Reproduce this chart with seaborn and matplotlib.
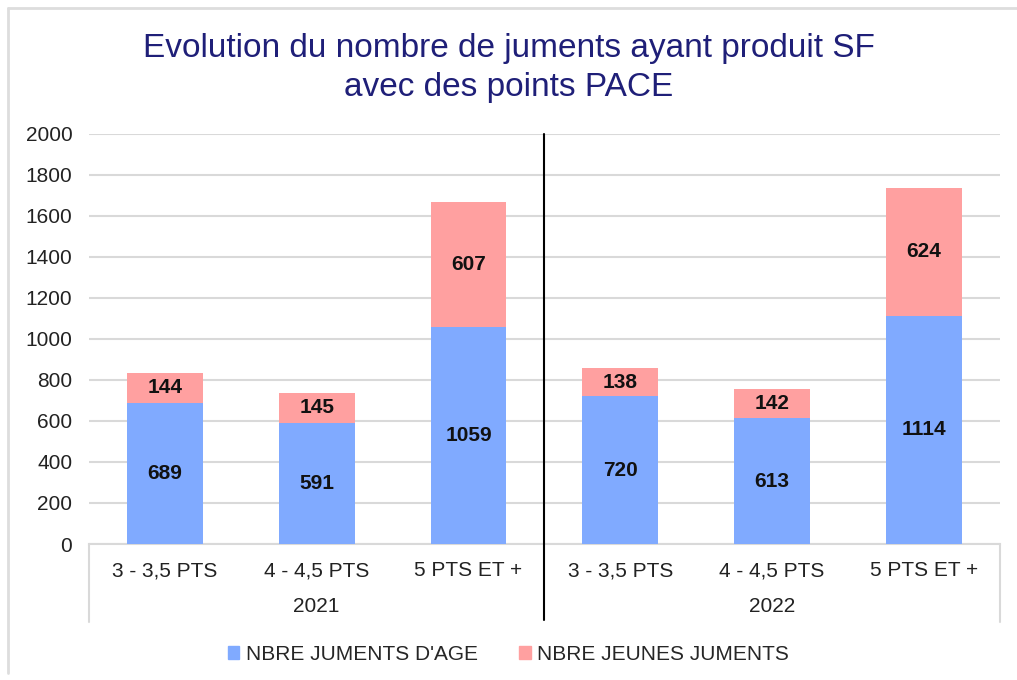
import numpy as np
import pandas as pd
import matplotlib.pyplot as plt
import matplotlib.transforms as mtransforms
from matplotlib.patches import Patch
import seaborn as sns

# Données
annees = ['2021', '2022']
categories = ['3 - 3,5 PTS', '4 - 4,5 PTS', '5 PTS ET +']
juments_age = [689, 591, 1059, 720, 613, 1114]
jeunes_juments = [144, 145, 607, 138, 142, 624]
y_ticks = [0, 200, 400, 600, 800, 1000, 1200, 1400, 1600, 1800, 2000]

BLEU = '#80AAFF'
ROSE = '#FFA0A0'
TITRE = '#1F1F78'
TEXTE = '#222222'

sns.set_style('white')
plt.rcParams['font.family'] = ['Liberation Sans', 'DejaVu Sans']

df = pd.DataFrame({
    'cle': [f'{a}|{c}' for a in annees for c in categories],
    'age': juments_age,
    'jeunes': jeunes_juments,
})
df['total'] = df['age'] + df['jeunes']

fig = plt.figure(figsize=(10.17, 6.8), dpi=100)
ax = fig.add_axes([0.0875, 0.2, 0.8955, 0.603])

# barres empilées : total en rose puis âge en bleu par-dessus
sns.barplot(data=df, x='cle', y='total', color=ROSE, width=0.5,
            saturation=1, linewidth=0, ax=ax, zorder=2)
sns.barplot(data=df, x='cle', y='age', color=BLEU, width=0.5,
            saturation=1, linewidth=0, ax=ax, zorder=3)

ax.set_ylim(0, 2000)
ax.set_xlim(-0.5, 5.5)
ax.set_yticks(y_ticks)
ax.tick_params(axis='y', labelsize=15, length=0, pad=12, labelcolor=TEXTE)
ax.set_xticks([])
ax.set_xlabel('')
ax.set_ylabel('')
ax.grid(axis='y', color='#D9D9D9', linewidth=1.5, zorder=0)
ax.set_axisbelow(True)
for s in ['top', 'right', 'left']:
    ax.spines[s].set_visible(False)
ax.spines['bottom'].set_color('#D9D9D9')
ax.spines['bottom'].set_linewidth(1.5)

# étiquettes des valeurs
for i, (a, j) in enumerate(zip(juments_age, jeunes_juments)):
    ax.text(i, a / 2, str(a), ha='center', va='center', fontsize=15,
            fontweight='bold', color='#111111', zorder=5)
    ax.text(i, a + j / 2, str(j), ha='center', va='center', fontsize=15,
            fontweight='bold', color='#111111', zorder=5)

# axe à deux niveaux
trans = mtransforms.blended_transform_factory(ax.transData, ax.transAxes)
for i in range(len(juments_age)):
    ax.text(i, -0.065, categories[i % 3], transform=trans, ha='center',
            va='center', fontsize=15, color=TEXTE)
for k, an in enumerate(annees):
    ax.text(3 * k + 1, -0.153, an, transform=trans, ha='center',
            va='center', fontsize=15, color=TEXTE)
for xv in [-0.5, 5.5]:
    ax.plot([xv, xv], [0, -0.19], transform=trans, color='#D9D9D9',
            lw=1.5, clip_on=False)
ax.plot([2.5, 2.5], [1, -0.185], transform=trans, color='black',
        lw=1.5, clip_on=False, zorder=6)

fig.text(0.5, 0.9, 'Evolution du nombre de juments ayant produit SF\navec des points PACE',
         ha='center', va='center', fontsize=24, color=TITRE, linespacing=1.35)

handles = [Patch(color=BLEU, label="NBRE JUMENTS D'AGE"),
           Patch(color=ROSE, label='NBRE JEUNES JUMENTS')]
fig.legend(handles=handles, loc='center', bbox_to_anchor=(0.5, 0.038), ncol=2,
           frameon=False, fontsize=15, handlelength=0.55, handleheight=0.55,
           handletextpad=0.3, columnspacing=2.0)

# cadre léger
fig.add_artist(plt.Line2D([0.008, 0.008], [0.01, 0.988], color='#DDDDDD', lw=2))
fig.add_artist(plt.Line2D([0.008, 1.0], [0.988, 0.988], color='#DDDDDD', lw=2))

fig.savefig('out.png', dpi=100)
